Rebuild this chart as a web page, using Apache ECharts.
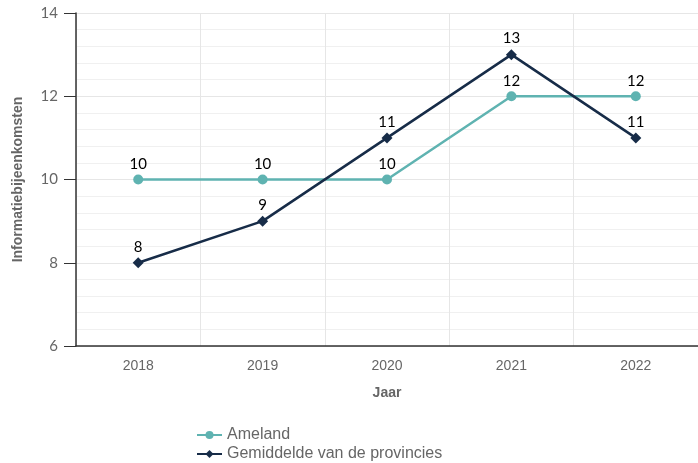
<!DOCTYPE html>
<html>
<head>
<meta charset="utf-8">
<script src="https://cdn.jsdelivr.net/npm/echarts@6/dist/echarts.min.js"></script>
<style>html,body{margin:0;padding:0;background:#fff}#chart{width:698px;height:463px}</style>
</head>
<body>
<div id="chart"></div>
<script>
var jaren = ['2018', '2019', '2020', '2021', '2022'];
var ameland = [10, 10, 10, 12, 12];
var gemiddelde = [8, 9, 11, 13, 11];

var chart = echarts.init(document.getElementById('chart'));
var labelStyle = {show: true, position: 'top', distance: 3, color: '#000', fontSize: 15, fontFamily: 'Lato'};
chart.setOption({
	animation: false,
	grid: {left: 76, right: 0, top: 13, bottom: 117, outerBoundsMode: 'none', containLabel: false},
	legend: {
		orient: 'vertical', left: 191, top: 422, height: 80, itemGap: 3, itemWidth: 25, itemHeight: 10,
		textStyle: {color: '#666', fontSize: 16, fontFamily: 'Arial'},
		data: ['Ameland', 'Gemiddelde van de provincies']
	},
	xAxis: {
		type: 'category', data: jaren,
		name: 'Jaar', nameLocation: 'middle', nameGap: 40,
		nameTextStyle: {color: '#666', fontWeight: 'bold', fontSize: 14, fontFamily: 'Arial'},
		axisLine: {lineStyle: {color: '#333', width: 1.5}},
		axisTick: {show: false},
		axisLabel: {color: '#666', fontSize: 14, fontFamily: 'Arial', margin: 13},
		splitLine: {show: true, lineStyle: {color: '#e6e6e6'}}
	},
	yAxis: {
		type: 'value', min: 6, max: 14, interval: 2,
		name: 'Informatiebijeenkomsten', nameLocation: 'middle', nameGap: 51,
		nameTextStyle: {color: '#666', fontWeight: 'bold', fontSize: 14, fontFamily: 'Arial'},
		axisLine: {show: true, lineStyle: {color: '#333', width: 1.5}},
		axisTick: {show: true, length: 12, lineStyle: {color: '#333'}},
		axisLabel: {color: '#666', fontSize: 15, fontFamily: 'Lato', margin: 18},
		splitLine: {show: true, lineStyle: {color: '#e6e6e6'}},
		minorTick: {show: false, splitNumber: 5},
		minorSplitLine: {show: true, lineStyle: {color: '#f0f0f0'}}
	},
	series: [
		{
			name: 'Ameland', type: 'line', data: ameland,
			symbol: 'circle', symbolSize: 10,
			lineStyle: {color: '#5fb3b1', width: 2.5},
			itemStyle: {color: '#5fb3b1'},
			label: labelStyle
		},
		{
			name: 'Gemiddelde van de provincies', type: 'line', data: gemiddelde,
			symbol: 'diamond', symbolSize: 11,
			lineStyle: {color: '#172c48', width: 2.5},
			itemStyle: {color: '#172c48'},
			label: labelStyle
		}
	]
});
</script>
</body>
</html>
